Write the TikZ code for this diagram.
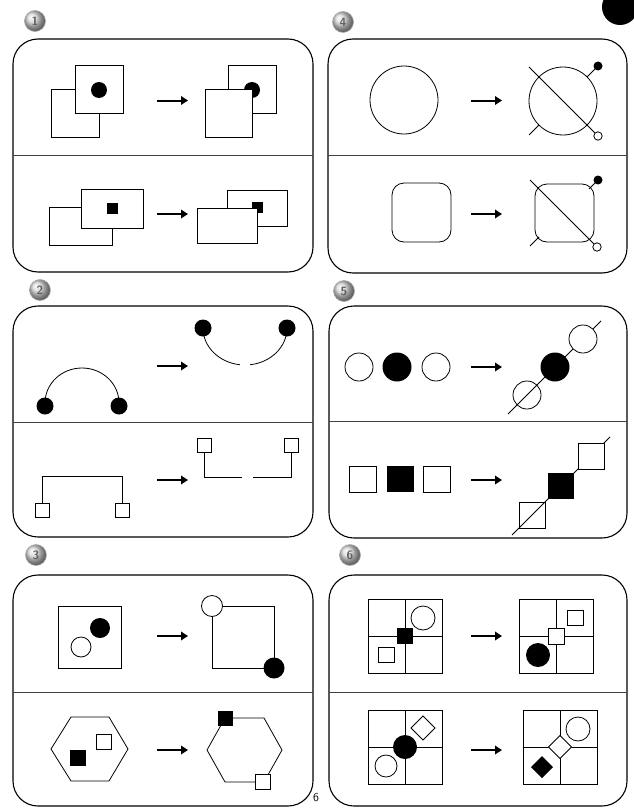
\documentclass[tikz,border=0pt]{standalone}
\usetikzlibrary{arrows.meta}
\begin{document}
\begin{tikzpicture}[x=1pt,y=-1pt,
  thin line/.style={line width=0.8pt},
  panel/.style={line width=1.1pt, rounded corners=25pt},
  divider/.style={line width=1pt, draw=black!75},
  wfill/.style={draw, fill=white, line width=0.8pt},
  arrowline/.style={line width=2pt, -{Triangle[length=7pt,width=8.5pt]}},
  badge/.style={circle, ball color=gray!30, draw=gray!65, line width=0.6pt, minimum size=21pt, inner sep=0pt,
     text=gray!75!black, font=\sffamily\bfseries\large}]
\clip (0,0) rectangle (634,808);
\fill[white] (0,0) rectangle (634,808);

% page corner mark and page number
\fill (620,7) circle (18);
\node[font=\sffamily\fontsize{12}{14}\selectfont] (pnum) at (316,798) {6};

% badges
\node[badge] (b1) at (35,21) {1};
\node[badge] (b2) at (40,290) {2};
\node[badge] (b3) at (36,555) {3};
\node[badge] (b4) at (343,22) {4};
\node[badge] (b5) at (344,291) {5};
\node[badge] (b6) at (350,555) {6};

% ===== Panel 1 =====
\draw[panel] (13,39) rectangle (313,272);
\draw[divider] (13,155) -- (313,155);
\draw[wfill] (51,89) rectangle (99,137);
\draw[wfill] (75,65) rectangle (123,113);
\fill (99,90) circle (8);
\draw[arrowline] (157,100.5) -- (188,100.5);
\draw[wfill] (228,65) rectangle (276,113);
\fill (252,90) circle (8);
\draw[wfill] (205,89) rectangle (252,137);
\draw[wfill] (49,207) rectangle (112,245);
\draw[wfill] (81,189) rectangle (143,228);
\fill (107,203) rectangle (118,214);
\draw[arrowline] (157,214) -- (188,214);
\draw[wfill] (227,190) rectangle (287,226);
\fill (252,202) rectangle (263,213);
\draw[wfill] (197,208) rectangle (257,243);

% ===== Panel 4 =====
\draw[panel] (328,39) rectangle (627,273);
\draw[divider] (328,155) -- (627,155);
\draw[thin line] (404,100) circle (34);
\draw[arrowline] (471,100.5) -- (502,100.5);
\draw[thin line] (563,101) circle (34);
\draw[thin line] (529,67) -- (595,133);
\draw[wfill] (598,136) circle (4.2);
\draw[thin line] (587,77) -- (597,67);
\fill (598,66) circle (4.5);
\draw[thin line] (539,125) -- (529,135);
\draw[thin line, rounded corners=12pt] (392,183) rectangle (451,242);
\draw[arrowline] (471,214) -- (502,214);
\draw[thin line, rounded corners=12pt] (535,184) rectangle (594,242);
\draw[thin line] (530,180) -- (594,244);
\draw[wfill] (597,247) circle (4.2);
\draw[thin line] (589,189) -- (597,181);
\fill (598,180) circle (4.5);
\draw[thin line] (539,237) -- (530,246);

% ===== Panel 2 =====
\draw[panel] (13,306) rectangle (313,537);
\draw[divider] (13,422) -- (313,422);
\draw[thin line] (45,403) arc[start angle=180, end angle=360, x radius=37, y radius=35];
\fill (45,406) circle (8.5);
\fill (119,406) circle (8.5);
\draw[arrowline] (157,366) -- (188,366);
\draw[thin line] (203,328) arc[start angle=180, end angle=97, x radius=42, y radius=37];
\draw[thin line] ({245+42*cos(83)},{328+37*sin(83)}) arc[start angle=83, end angle=0, x radius=42, y radius=37];
\fill (203,328) circle (8.5);
\fill (287,328) circle (8.5);
\draw[thin line] (42.5,503) -- (42.5,476) -- (122.5,476) -- (122.5,503);
\draw[wfill] (35.5,503) rectangle (49.5,517);
\draw[wfill] (115.5,503) rectangle (129.5,517);
\draw[arrowline] (157,480) -- (188,480);
\draw[thin line] (204,452) -- (204,477) -- (242,477);
\draw[thin line] (253,477) -- (291,477) -- (291,452);
\draw[wfill] (197,438) rectangle (211,452);
\draw[wfill] (284,438) rectangle (298,452);

% ===== Panel 5 =====
\draw[panel] (329,306) rectangle (627,538);
\draw[divider] (329,421) -- (627,421);
\draw[thin line] (359,367) circle (14);
\fill (397,367) circle (14.5);
\draw[thin line] (436,367) circle (14);
\draw[arrowline] (471,367) -- (502,367);
\draw[thin line] (508,414) -- (601,321);
\draw[thin line] (527,395) circle (14);
\fill (555,367) circle (14.5);
\draw[wfill] (583,339) circle (14);
\draw[thin line] (349,466) rectangle (376,492);
\fill (387,466) rectangle (414,492);
\draw[thin line] (423,466) rectangle (450,492);
\draw[arrowline] (471,480) -- (502,480);
\draw[thin line] (512,535) -- (610,437);
\draw[thin line] (519,502) rectangle (545,528);
\fill (548,473) rectangle (574,499);
\draw[wfill] (578,443) rectangle (604,469);

% ===== Panel 3 =====
\draw[panel] (13,575) rectangle (313,806);
\draw[divider] (13,692) -- (313,692);
\draw[thin line] (58,606) rectangle (121,668);
\fill (100,628) circle (10);
\draw[wfill] (81,647) circle (10);
\draw[arrowline] (157,636) -- (188,636);
\draw[thin line] (212,606) rectangle (274,668);
\draw[wfill] (212,606) circle (10.5);
\fill (274,668) circle (10.5);
\draw[thin line] (51,749) -- (71,717) -- (109,717) -- (128,749) -- (109,781) -- (71,781) -- cycle;
\draw[wfill] (96,734) rectangle (111,749);
\fill (70,750) rectangle (86,766);
\draw[arrowline] (157,750) -- (188,750);
\draw[thin line] (207,750) -- (225,718) -- (264,718) -- (282,750) -- (264,782) -- (225,782) -- cycle;
\fill (217.5,710.5) rectangle (232.5,725.5);
\draw[wfill] (255,774.5) rectangle (270,789.5);

% ===== Panel 6 =====
\draw[panel] (329,575) rectangle (627,806);
\draw[divider] (329,692) -- (627,692);
\draw[thin line] (368,599) rectangle (442,673);
\draw[thin line] (405,599) -- (405,673) (368,636) -- (442,636);
\fill (397,628) rectangle (413,644);
\draw[wfill] (423,618) circle (12);
\draw[wfill] (378,647) rectangle (394,662);
\draw[arrowline] (471,636) -- (502,636);
\draw[thin line] (519,599) rectangle (593,673);
\draw[thin line] (556,599) -- (556,673) (519,636) -- (593,636);
\draw[wfill] (548,628) rectangle (564,644);
\draw[wfill] (567,610) rectangle (583,625);
\fill (538,655) circle (12);
\draw[thin line] (368,710) rectangle (442,784);
\draw[thin line] (405,710) -- (405,784) (368,747) -- (442,747);
\fill (405,747) circle (12);
\draw[wfill] (423,716) -- (435,728) -- (423,740) -- (411,728) -- cycle;
\draw[wfill] (386,766) circle (11);
\draw[arrowline] (471,750) -- (502,750);
\draw[thin line] (523,710) rectangle (597,784);
\draw[thin line] (560,710) -- (560,784) (523,747) -- (597,747);
\draw[wfill] (560,735.5) -- (571.5,747) -- (560,758.5) -- (548.5,747) -- cycle;
\draw[wfill] (578,729) circle (12);
\fill (542,756) -- (553,767) -- (542,778) -- (531,767) -- cycle;
\end{tikzpicture}
\end{document}
